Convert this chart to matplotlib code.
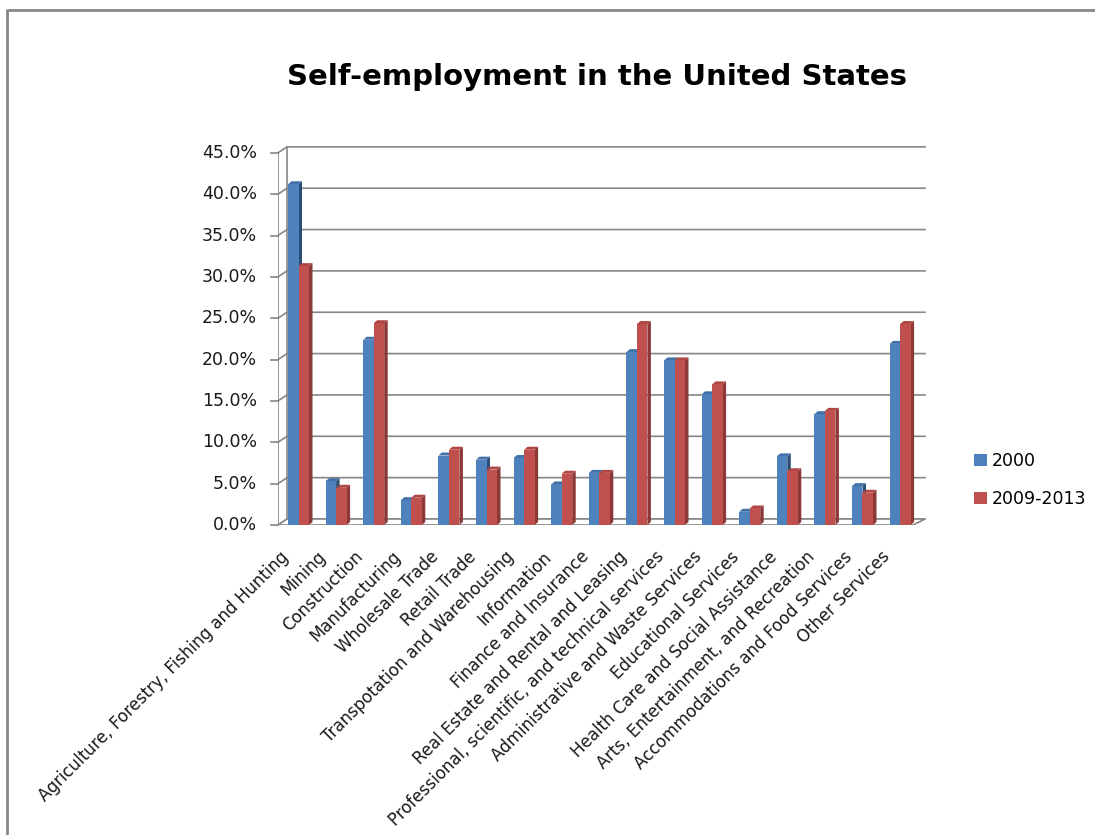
import matplotlib
matplotlib.use("Agg")
import matplotlib.pyplot as plt
import matplotlib.transforms as mtransforms
from matplotlib.patches import Polygon, Patch
from matplotlib.lines import Line2D

categories = [
    "Agriculture, Forestry, Fishing and Hunting", "Mining", "Construction",
    "Manufacturing", "Wholesale Trade", "Retail Trade",
    "Transpotation and Warehousing", "Information", "Finance and Insurance",
    "Real Estate and Rental and Leasing",
    "Professional, scientific, and technical services",
    "Administrative and Waste Services", "Educational Services",
    "Health Care and Social Assistance", "Arts, Entertainment, and Recreation",
    "Accommodations and Food Services", "Other Services",
]
share_2000 = [41.2, 5.3, 22.4, 3.0, 8.4, 7.9, 8.1, 4.9, 6.3, 20.9, 19.9,
              15.8, 1.6, 8.3, 13.4, 4.7, 21.9]
share_2009_2013 = [31.3, 4.5, 24.4, 3.3, 9.1, 6.7, 9.1, 6.2, 6.3, 24.3, 19.9,
                   17.0, 2.0, 6.5, 13.8, 3.9, 24.3]
series_names = ["2000", "2009-2013"]
y_ticks = [0, 5, 10, 15, 20, 25, 30, 35, 40, 45]

W, H = 1095, 835
fig = plt.figure(figsize=(W / 100, H / 100), dpi=100)
plt.rcParams["font.family"] = "DejaVu Sans"

# plot box in pixels: left 278, right 925, top 146, bottom 525
ax = fig.add_axes([278 / W, (H - 525) / H, (925 - 278) / W, (525 - 146) / H])
px_x = 37.6   # pixels per category
px_y = 8.27   # pixels per percent
x_lo = -(298.5 - 278) / px_x
x_hi = (925 - 298.5) / px_x
ax.set_xlim(x_lo, x_hi)
ax.set_ylim(0, (525 - 146) / px_y)
ax.axis("off")

grid_c = "#868686"
wall_dx, wall_dy = 9 / px_x, 6 / px_y     # depth of the back wall
tick_len = 7 / px_x

# walls, gridlines and ticks
ax.plot([x_lo, x_lo], [0, y_ticks[-1]], color=grid_c, lw=1.2, zorder=1)
ax.plot([x_lo + wall_dx] * 2, [wall_dy, y_ticks[-1] + wall_dy], color=grid_c, lw=1.2, zorder=1)
for v in y_ticks:
    ax.plot([x_lo, x_lo + wall_dx, x_hi], [v, v + wall_dy, v + wall_dy],
            color=grid_c, lw=1.2, zorder=1, clip_on=False)
    ax.plot([x_lo - tick_len, x_lo], [v, v], color=grid_c, lw=1.2, clip_on=False)
    ax.text(x_lo - tick_len - 14 / px_x, v, f"{v:.1f}%", ha="right", va="center",
            fontsize=12.5, color="#1a1a1a")

# floor slab
floor_r = (913 - 298.5) / px_x
ax.add_patch(Polygon([(x_lo, 0), (floor_r, 0), (x_hi, wall_dy), (x_lo + wall_dx, wall_dy)],
                     closed=True, fc="white", ec=grid_c, lw=1.2, zorder=1.5))

# 3D-looking columns
bar_w = 10.5 / px_x
dx, dy = 3.5 / px_x, 3 / px_y
styles = [("#4F81BD", "#2C4D75", "#4270A8"), ("#C0504D", "#8C3836", "#B04644")]
for s, values in enumerate([share_2000, share_2009_2013]):
    front, side, top = styles[s]
    for i, v in enumerate(values):
        x0 = i - bar_w + s * bar_w
        x1 = x0 + bar_w
        z = 3 + s
        ax.add_patch(Polygon([(x1, 0), (x1 + dx, dy), (x1 + dx, v + dy), (x1, v)],
                             closed=True, fc=side, ec="none", zorder=z))
        ax.add_patch(Polygon([(x0, v), (x0 + dx, v + dy), (x1 + dx, v + dy), (x1, v)],
                             closed=True, fc=top, ec="none", zorder=z))
        ax.add_patch(Polygon([(x0, 0), (x1, 0), (x1, v), (x0, v)],
                             closed=True, fc=front, ec="none", zorder=z))

# rotated category labels
lab_tr = mtransforms.offset_copy(ax.transData, fig=fig, x=-13, y=-29, units="dots")
for i, name in enumerate(categories):
    ax.text(i, 0, name, transform=lab_tr, rotation=45, rotation_mode="anchor",
            ha="right", va="center", fontsize=12, color="#1a1a1a")

handles = [Patch(fc=styles[0][0]), Patch(fc=styles[1][0])]
fig.legend(handles, series_names, loc="center left",
           bbox_to_anchor=(965 / W, 1 - 480 / H), frameon=False, fontsize=12.5,
           handlelength=0.75, handleheight=0.75, handletextpad=0.3,
           labelspacing=1.15, borderpad=0)

fig.text(597 / W, 1 - 77 / H, "Self-employment in the United States",
         ha="center", va="center", fontsize=21, fontweight="bold")

# chart area border (left and top edges)
fig.add_artist(Line2D([7 / W, 7 / W, 1], [0, 1 - 10 / H, 1 - 10 / H],
                      transform=fig.transFigure, color="#888888", lw=2))

fig.savefig("out.png", dpi=100)
